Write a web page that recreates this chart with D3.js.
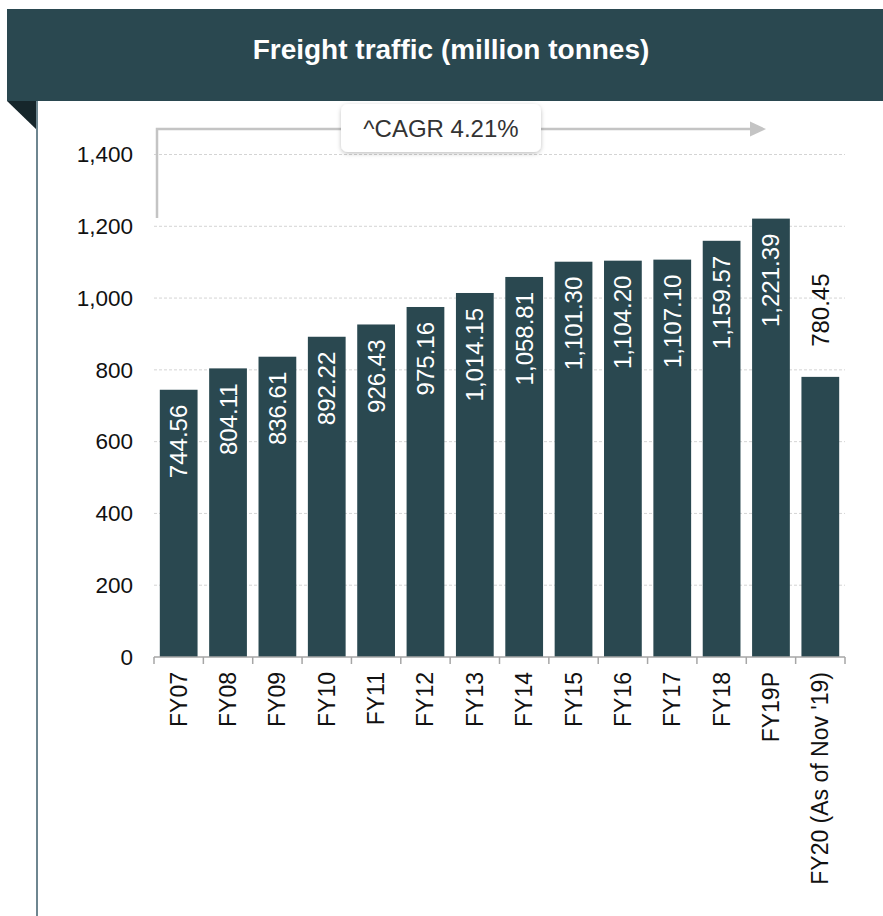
<!DOCTYPE html>
<html>
<head>
<meta charset="utf-8">
<script src="https://cdn.jsdelivr.net/npm/d3@7"></script>
<style>
  html, body { margin: 0; padding: 0; background: #ffffff; }
  svg { display: block; font-family: "Liberation Sans", Arial, sans-serif; }
</style>
</head>
<body>
<svg id="chart" width="883" height="916"></svg>
<script>
// Freight traffic by fiscal year (million tonnes)
const categories = ["FY07", "FY08", "FY09", "FY10", "FY11", "FY12", "FY13", "FY14",
                    "FY15", "FY16", "FY17", "FY18", "FY19P", "FY20 (As of Nov '19)"];
const freight = [744.56, 804.11, 836.61, 892.22, 926.43, 975.16, 1014.15, 1058.81,
                 1101.30, 1104.20, 1107.10, 1159.57, 1221.39, 780.45];
const yTicks = [0, 200, 400, 600, 800, 1000, 1200, 1400];
const title = "Freight traffic (million tonnes)";
const cagrLabel = "^CAGR 4.21%";
// Bars whose value label sits above the bar instead of inside it
const outsideLabel = ["FY20 (As of Nov '19)"];

const svg = d3.select("#chart");
const teal = "#2a4850";

// Header banner with folded corner
svg.append("rect").attr("x", 7).attr("y", 9).attr("width", 876).attr("height", 92).attr("fill", teal);
svg.append("path").attr("d", "M7,101 L37,101 L37,130 Z").attr("fill", "#16262b");
svg.append("line").attr("x1", 37).attr("x2", 37).attr("y1", 101).attr("y2", 916)
  .attr("stroke", "#6e8690").attr("stroke-width", 2);
svg.append("text").attr("x", 451).attr("y", 59).attr("text-anchor", "middle")
  .attr("fill", "#ffffff").attr("font-weight", "bold").attr("font-size", 28).text(title);

// Scales
const x = d3.scaleBand().domain(categories).range([154, 845]).paddingInner(0.235).paddingOuter(0.1175);
const y = d3.scaleLinear().domain([0, 1400]).range([657, 154.5]);

// Gridlines
svg.append("g").selectAll("line").data(yTicks.filter(d => d > 0)).join("line")
  .attr("x1", 154).attr("x2", 845)
  .attr("y1", d => y(d)).attr("y2", d => y(d))
  .attr("stroke", "#d4d4d4").attr("stroke-width", 1).attr("stroke-dasharray", "3,2");

// Y axis labels only
const yAxis = d3.axisLeft(y).tickValues(yTicks).tickSize(0).tickPadding(0).tickFormat(d3.format(","));
const gy = svg.append("g").attr("transform", "translate(133,0)").call(yAxis);
gy.select(".domain").remove();
gy.selectAll("text").attr("font-size", 22.5).attr("fill", "#111").attr("font-family", "Liberation Sans, Arial, sans-serif");

// Bars
svg.append("g").selectAll("rect").data(freight).join("rect")
  .attr("x", (d, i) => x(categories[i]))
  .attr("y", d => y(d))
  .attr("width", x.bandwidth())
  .attr("height", d => y(0) - y(d))
  .attr("fill", teal);

// Value labels
const fmt = d3.format(",.2f");
svg.append("g").selectAll("text").data(freight).join("text")
  .attr("transform", (d, i) => {
    const cx = x(categories[i]) + x.bandwidth() / 2;
    const outside = outsideLabel.includes(categories[i]);
    const ty = outside ? y(d) - 30 : y(d) + 15;
    return `translate(${cx},${ty}) rotate(-90)`;
  })
  .attr("text-anchor", (d, i) => outsideLabel.includes(categories[i]) ? "start" : "end")
  .attr("dominant-baseline", "central")
  .attr("font-size", 24)
  .attr("fill", (d, i) => outsideLabel.includes(categories[i]) ? "#111" : "#ffffff")
  .text(d => fmt(d));

// X axis: band boundary ticks
const gx = svg.append("g");
gx.append("line").attr("x1", 154).attr("x2", 845).attr("y1", 657).attr("y2", 657)
  .attr("stroke", "#a6a6a6").attr("stroke-width", 1.5);
const bounds = categories.map(c => x(c) - x.step() * x.paddingInner() / 2).concat([845]);
gx.selectAll("line.tick").data(bounds).join("line").attr("class", "tick")
  .attr("x1", d => d).attr("x2", d => d).attr("y1", 657).attr("y2", 664)
  .attr("stroke", "#a6a6a6").attr("stroke-width", 1.5);
gx.selectAll("text").data(categories).join("text")
  .attr("transform", d => `translate(${x(d) + x.bandwidth() / 2},672) rotate(-90)`)
  .attr("text-anchor", "end").attr("dominant-baseline", "central")
  .attr("font-size", 23).attr("fill", "#111").text(d => d);

// CAGR bracket with arrow
const bracket = svg.append("g");
bracket.append("path").attr("d", "M157,218 L157,129 L752,129")
  .attr("fill", "none").attr("stroke", "#c4c4c4").attr("stroke-width", 2.5);
bracket.append("path").attr("d", "M750,121.5 L766,129 L750,136.5 Z").attr("fill", "#c4c4c4");

const defs = svg.append("defs");
const f = defs.append("filter").attr("id", "shadow").attr("x", "-20%").attr("y", "-30%").attr("width", "140%").attr("height", "170%");
f.append("feDropShadow").attr("dx", 0).attr("dy", 1.5).attr("stdDeviation", 2).attr("flood-color", "#000").attr("flood-opacity", 0.25);
bracket.append("rect").attr("x", 341).attr("y", 104).attr("width", 200).attr("height", 48).attr("rx", 7)
  .attr("fill", "#ffffff").attr("filter", "url(#shadow)");
bracket.append("text").attr("x", 441).attr("y", 136.5).attr("text-anchor", "middle")
  .attr("font-size", 24).attr("fill", "#333").text(cagrLabel);
</script>
</body>
</html>
